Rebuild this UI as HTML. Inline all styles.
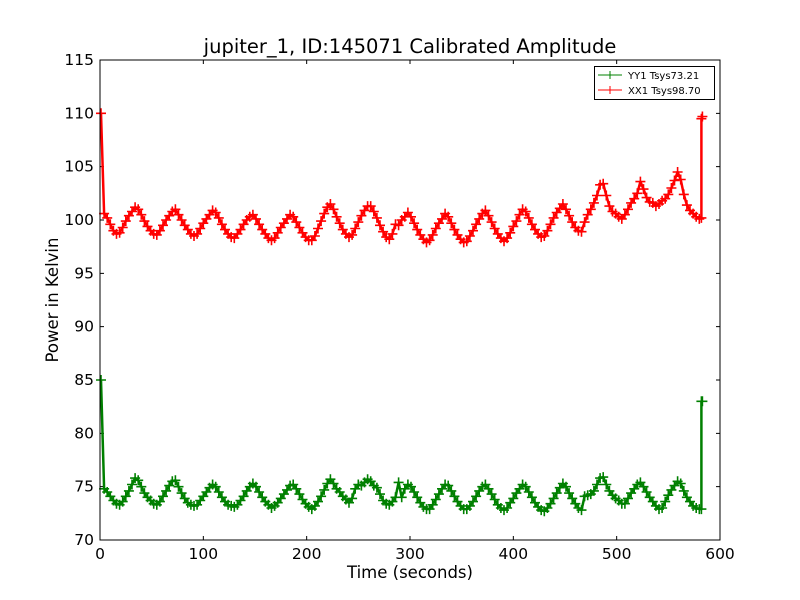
<!DOCTYPE html>
<html><head><meta charset="utf-8"><style>
html,body{margin:0;padding:0;background:#fff;}
svg{display:block;font-family:"DejaVu Sans","Liberation Sans",sans-serif;}
</style></head><body>
<svg id="chart" width="800" height="600" viewBox="0 0 800 600" xmlns="http://www.w3.org/2000/svg">
<rect width="800" height="600" fill="#fff"/>
<text x="410" y="53" text-anchor="middle" font-size="19.5">jupiter_1, ID:145071 Calibrated Amplitude</text>
<text x="410" y="578" text-anchor="middle" font-size="16.5">Time (seconds)</text>
<text x="58" y="300" text-anchor="middle" font-size="16.5" transform="rotate(-90 58 300)">Power in Kelvin</text>
<g id="ticks"></g>
<g id="series"></g>
<rect x="100" y="60" width="620" height="480" fill="none" stroke="#000" stroke-width="1"/>
<g>
<rect x="594.5" y="66.5" width="120" height="33" fill="#fff" stroke="#000" stroke-width="1"/>
<g>
<line x1="598" y1="75" x2="622" y2="75" stroke="#008000"/>
<path d="M606 75h8M610 71v8" stroke="#008000"/>
<text x="628" y="79" font-size="10">YY1 Tsys73.21</text></g>
<g>
<line x1="598" y1="90" x2="622" y2="90" stroke="#ff0000"/>
<path d="M606 90h8M610 86v8" stroke="#ff0000"/>
<text x="628" y="94" font-size="10">XX1 Tsys98.70</text></g>
</g>
</svg>
<script>
const xTicks=[0,100,200,300,400,500,600];
const yTicks=[70,75,80,85,90,95,100,105,110,115];
const tStart=1, tStep=3;
const redValues=[110.0,100.6,100.2,99.6,99.0,98.7,98.8,99.3,99.9,100.4,100.8,101.2,101.0,100.5,99.9,99.4,99.0,98.7,98.6,99.0,99.5,100.0,100.4,100.8,101.0,100.5,100.0,99.5,99.1,98.7,98.5,98.7,99.2,99.7,100.1,100.5,100.9,100.7,100.2,99.6,99.1,98.7,98.4,98.3,98.7,99.1,99.6,100.0,100.3,100.5,100.1,99.6,99.1,98.7,98.3,98.1,98.3,98.8,99.3,99.7,100.1,100.5,100.3,99.8,99.3,98.8,98.4,98.1,98.1,98.5,99.2,99.9,100.6,101.2,101.5,101.0,100.3,99.7,99.1,98.7,98.4,98.6,99.2,99.8,100.4,100.9,101.3,101.3,100.8,100.2,99.5,98.9,98.4,98.2,98.7,99.6,99.5,100.0,100.3,100.7,100.3,99.7,99.1,98.6,98.2,97.9,98.1,98.6,99.2,99.7,100.1,100.6,100.3,99.7,99.1,98.6,98.2,97.9,98.0,98.5,99.0,99.6,100.1,100.6,100.9,100.4,99.8,99.2,98.7,98.3,98.0,98.3,98.8,99.4,99.9,100.5,101.0,100.8,100.2,99.6,99.1,98.7,98.4,98.5,99.0,99.6,100.2,100.7,101.1,101.5,101.0,100.4,99.8,99.3,99.0,98.9,99.8,100.5,101.0,101.6,102.3,103.3,103.4,102.3,101.3,100.8,100.6,100.3,100.1,100.5,101.0,101.6,102.0,102.5,103.6,102.9,102.1,101.7,101.6,101.3,101.5,101.8,102.0,102.4,103.0,103.7,104.5,103.8,102.4,101.4,100.9,100.6,100.3,100.1];
const redTailTimes=[582,582,583];
const redTailValues=[100.2,109.5,109.7];
const greenValues=[85.0,74.8,74.5,74.1,73.7,73.4,73.3,73.6,74.1,74.6,75.2,75.8,75.6,75.0,74.4,74.0,73.7,73.4,73.3,73.6,74.1,74.6,75.1,75.5,75.6,75.0,74.4,73.9,73.5,73.3,73.2,73.3,73.7,74.1,74.5,74.9,75.2,75.0,74.5,74.0,73.6,73.3,73.2,73.1,73.3,73.7,74.1,74.6,75.0,75.3,75.0,74.5,74.0,73.6,73.3,73.0,73.2,73.5,73.9,74.3,74.7,75.1,75.2,74.8,74.3,73.8,73.4,73.1,72.9,73.2,73.6,74.1,74.7,75.3,75.7,75.3,74.8,74.5,74.1,73.8,73.5,73.9,74.8,75.2,75.1,75.4,75.7,75.5,75.1,74.9,74.3,73.7,73.4,73.3,73.6,74.0,75.4,74.0,74.8,75.2,75.0,74.5,74.0,73.5,73.1,72.9,72.9,73.3,73.8,74.3,74.8,75.2,75.1,74.6,74.1,73.6,73.2,72.9,72.9,73.2,73.6,74.1,74.6,75.0,75.2,74.8,74.3,73.8,73.3,73.0,72.8,73.0,73.5,73.9,74.4,74.8,75.2,75.0,74.5,74.0,73.5,73.1,72.8,72.7,73.0,73.4,73.9,74.4,74.9,75.3,75.0,74.4,73.9,73.4,73.0,72.8,74.1,74.2,74.3,74.6,75.2,75.8,75.9,75.2,74.6,74.2,73.9,73.7,73.4,73.4,73.9,74.4,74.8,75.2,75.4,75.0,74.5,74.0,73.6,73.2,72.9,73.0,73.6,74.2,74.7,75.1,75.5,75.3,74.6,74.0,73.6,73.2,73.0,72.9];
const greenTailTimes=[582,582,583];
const greenTailValues=[72.9,83.0,83.0];

const X0=100,X1=720,Y0=540,Y1=60;
const xMin=0,xMax=600,yMin=70,yMax=115;
function sx(v){return X0+(v-xMin)/(xMax-xMin)*(X1-X0);}
function sy(v){return Y0-(v-yMin)/(yMax-yMin)*(Y0-Y1);}
const NS="http://www.w3.org/2000/svg";
const tg=document.getElementById('ticks');
let td="";
xTicks.forEach(v=>{
  const x=sx(v);
  td+=`M${x} ${Y0}v-4M${x} ${Y1}v4`;
  const t=document.createElementNS(NS,'text');
  
  
  t.setAttribute('x',x);t.setAttribute('y',Y0+19);
  t.setAttribute('text-anchor','middle');t.setAttribute('font-size','15.5');
  t.textContent=v;tg.appendChild(t);
});
yTicks.forEach(v=>{
  const y=sy(v);
  td+=`M${X0} ${y}h4M${X1} ${y}h-4`;
  const t=document.createElementNS(NS,'text');
  
  
  t.setAttribute('x',X0-6);t.setAttribute('y',y+5);
  t.setAttribute('text-anchor','end');t.setAttribute('font-size','15.5');
  t.textContent=v;tg.appendChild(t);
});
const tp=document.createElementNS(NS,'path');


tp.setAttribute('d',td);tp.setAttribute('stroke','#000');tp.setAttribute('fill','none');
tg.appendChild(tp);

const sg=document.getElementById('series');
function drawSeries(vals,tailT,tailV,color,name){
  const pts=vals.map((v,i)=>[tStart+i*tStep,v]);
  tailT.forEach((t,i)=>pts.push([t,tailV[i]]));
  let ld="",md="";
  pts.forEach((p,i)=>{
    const x=sx(p[0]),y=sy(p[1]);
    ld+=(i?"L":"M")+x.toFixed(1)+" "+y.toFixed(1);
    md+=`M${(x-5).toFixed(1)} ${y.toFixed(1)}h10M${x.toFixed(1)} ${(y-5).toFixed(1)}v10`;
  });
  const l=document.createElementNS(NS,'path');
  
  
  l.setAttribute('d',ld);l.setAttribute('stroke',color);l.setAttribute('fill','none');l.setAttribute('stroke-width','2.5');l.setAttribute('stroke-linejoin','round');
  sg.appendChild(l);
  const m=document.createElementNS(NS,'path');
  
  
  m.setAttribute('d',md);m.setAttribute('stroke',color);m.setAttribute('fill','none');m.setAttribute('stroke-width','1.6');
  sg.appendChild(m);
}
drawSeries(greenValues,greenTailTimes,greenTailValues,'#008000','yy1-series');
drawSeries(redValues,redTailTimes,redTailValues,'#ff0000','xx1-series');
</script>
</body></html>
